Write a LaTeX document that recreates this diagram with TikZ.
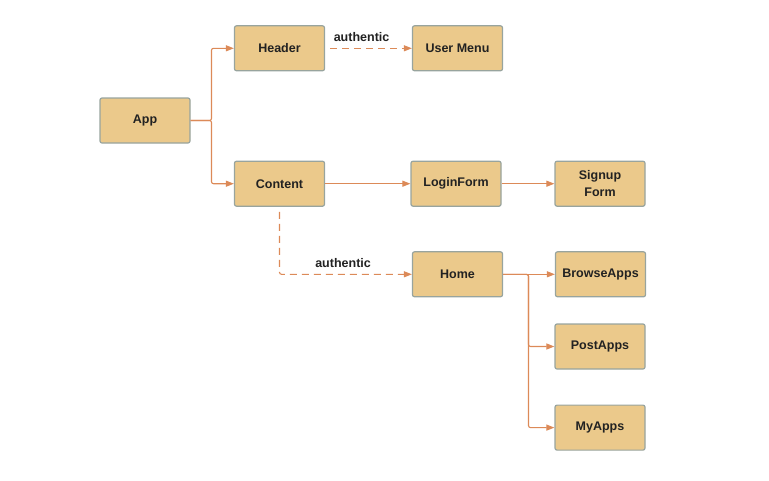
\documentclass[tikz,border=0pt]{standalone}
\usepackage{fontspec}
\setmainfont{Liberation Sans}
\usetikzlibrary{arrows.meta}
\definecolor{boxfill}{HTML}{EBC98B}
\definecolor{boxline}{HTML}{98A49E}
\definecolor{conn}{HTML}{DC8A58}
\definecolor{txt}{HTML}{222222}
\tikzset{
  comp/.style={draw=boxline, line width=1.2pt, fill=boxfill, rounded corners=2pt,
    minimum width=90pt, minimum height=45pt, inner sep=0pt, align=center,
    font=\fontsize{12.5}{16.5}\selectfont\bfseries, text=txt},
  link/.style={draw=conn, line width=1.1pt, rounded corners=2pt,
    -{Triangle[length=8pt,width=6pt]}},
  cond/.style={link, dash pattern=on 7pt off 5pt, dash phase=-5pt},
  lbl/.style={font=\fontsize{12.5}{14}\selectfont\bfseries, text=txt, inner sep=0pt}
}
\begin{document}
\begin{tikzpicture}[x=1pt,y=-1pt]
\useasboundingbox (0,0) rectangle (769,480);
\node[comp] (app) at (145,120.5) {App};
\node[comp] (header) at (279.5,48.3) {Header};
\node[comp] (usermenu) at (457.5,48.3) {User Menu};
\node[comp] (content) at (279.5,183.7) {Content};
\node[comp] (login) at (456,183.7) {LoginForm};
\node[comp] (signup) at (600,183.7) {Signup\\Form};
\node[comp] (home) at (457.5,274.3) {Home};
\node[comp] (browse) at (600.5,274.3) {BrowseApps};
\node[comp] (post) at (600,346.5) {PostApps};
\node[comp] (my) at (600,427.6) {MyApps};
\coordinate (appfork) at (211.5,120.5);
\coordinate (homefork) at (528.5,274.3);
\draw[link] (app.east) -- (appfork) |- (header.west);
\draw[link] (app.east) -- (appfork) |- (content.west);
\draw[cond] (header.east) -- node[lbl, pos=0.42, above=6pt] {authentic} (usermenu.west);
\draw[link] (content.east) -- (login.west);
\draw[link] (login.east) -- (signup.west);
\draw[cond] (content.south) |- node[lbl, pos=0.74, above=6pt] {authentic} (home.west);
\draw[link] (home.east) -- (browse.west);
\draw[link] (home.east) -- (homefork) |- (post.west);
\draw[link] (home.east) -- (homefork) |- (my.west);
\end{tikzpicture}
\end{document}
